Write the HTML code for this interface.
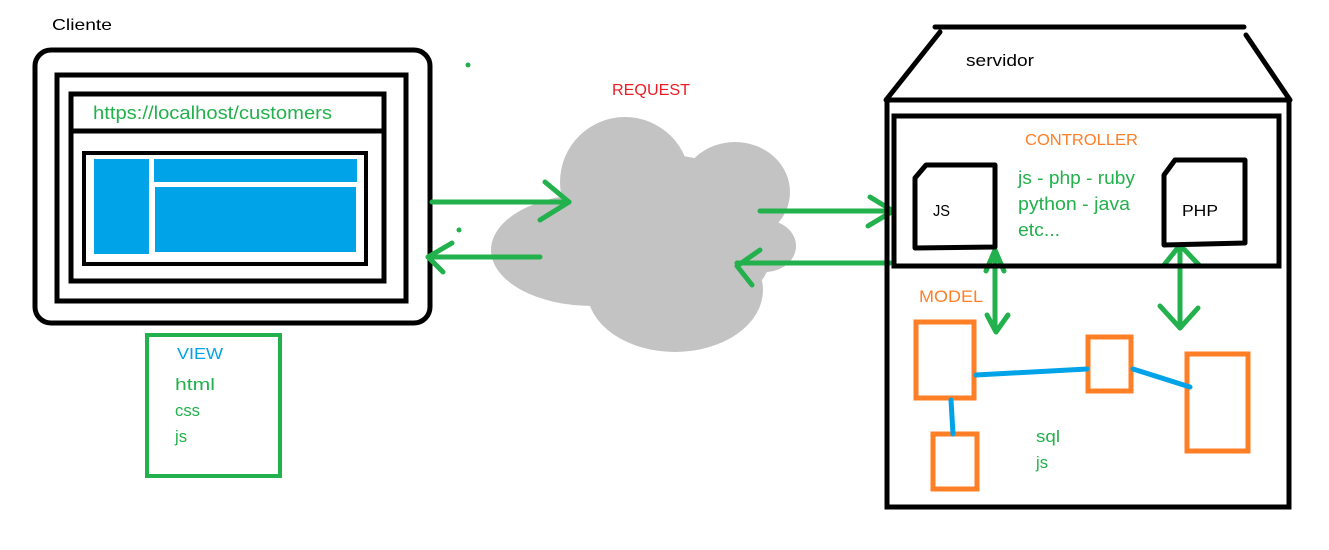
<!DOCTYPE html>
<html><head><meta charset="utf-8"><style>
body{margin:0;background:#fff;width:1329px;height:545px;overflow:hidden}
text{font-family:"Liberation Sans","DejaVu Sans",sans-serif}
</style></head><body>
<svg width="1329" height="545" viewBox="0 0 1329 545" xmlns="http://www.w3.org/2000/svg">
<rect width="1329" height="545" fill="#fff"/>
<!-- cloud -->
<g fill="#c3c3c3">
<circle cx="625" cy="182" r="65"/>
<ellipse cx="735" cy="192" rx="55" ry="50"/>
<ellipse cx="592" cy="250" rx="101" ry="56"/>
<ellipse cx="675" cy="290" rx="88" ry="62"/>
<ellipse cx="765" cy="246" rx="31" ry="26"/>
<ellipse cx="665" cy="240" rx="110" ry="85"/>
</g>
<!-- client -->
<text x="52" y="30" font-size="16" fill="#000" textLength="60" lengthAdjust="spacingAndGlyphs">Cliente</text>
<rect x="35" y="50" width="395" height="273" rx="16" fill="none" stroke="#000" stroke-width="5"/>
<rect x="57" y="75" width="349" height="226" fill="none" stroke="#000" stroke-width="5"/>
<rect x="71" y="94" width="313" height="187" fill="none" stroke="#000" stroke-width="5"/>
<line x1="71" y1="131" x2="386" y2="131" stroke="#000" stroke-width="5"/>
<text x="93" y="119" font-size="18" fill="#22b14c" textLength="239" lengthAdjust="spacingAndGlyphs">https://localhost/customers</text>
<rect x="84" y="153" width="282" height="111" fill="none" stroke="#000" stroke-width="4"/>
<rect x="94" y="159" width="55" height="95" fill="#00a2e8"/>
<rect x="154" y="159" width="203" height="23" fill="#00a2e8"/>
<rect x="155" y="187" width="201" height="65" fill="#00a2e8"/>
<!-- view -->
<rect x="147" y="335" width="133" height="141" fill="none" stroke="#22b14c" stroke-width="4"/>
<text x="177" y="359" font-size="16" fill="#00a2e8" textLength="46" lengthAdjust="spacingAndGlyphs">VIEW</text>
<text x="175" y="390" font-size="17" fill="#22b14c" textLength="40" lengthAdjust="spacingAndGlyphs">html</text>
<text x="175" y="416" font-size="17" fill="#22b14c" textLength="25" lengthAdjust="spacingAndGlyphs">css</text>
<text x="175" y="442" font-size="17" fill="#22b14c" textLength="12" lengthAdjust="spacingAndGlyphs">js</text>
<circle cx="468" cy="65" r="2.5" fill="#22b14c"/>
<circle cx="459" cy="230" r="2.5" fill="#22b14c"/>
<text x="612" y="95" font-size="16" fill="#ed1c24" textLength="78" lengthAdjust="spacingAndGlyphs">REQUEST</text>
<!-- arrows -->
<g stroke="#22b14c" stroke-width="5" fill="none" stroke-linecap="round" stroke-linejoin="round">
<line x1="432" y1="202" x2="569" y2="202"/><polyline points="545,182 569,202 540,220"/>
<line x1="540" y1="257" x2="428" y2="257"/><polyline points="452,243 428,257 443,272"/>
<line x1="760" y1="211" x2="893" y2="211"/><polyline points="870,197 893,211 868,226"/>
<line x1="890" y1="263" x2="737" y2="263"/><polyline points="760,250 737,266 752,285"/>
<line x1="995" y1="250" x2="995" y2="330"/><polyline points="986,271 995,250 1004,271"/><polyline points="987,315 996,332 1008,315"/>
<line x1="1180" y1="245" x2="1180" y2="328"/><polyline points="1164,265 1180,245 1199,265"/><polyline points="1160,306 1180,328 1198,308"/>
</g>
<!-- server -->
<g stroke="#000" stroke-width="5" fill="none" stroke-linecap="round">
<line x1="935" y1="27" x2="1244" y2="27"/>
<line x1="940" y1="32" x2="886" y2="100"/>
<line x1="1246" y1="35" x2="1290" y2="100"/>
<rect x="887" y="100" width="402" height="407"/>
<rect x="894" y="116" width="385" height="150"/>
<path d="M926,165 L995,165 L995,247 L915,248 L915,178 Z" stroke-linejoin="round"/>
<path d="M1175,160 L1245,160 L1245,243 L1164,245 L1164,175 Z" stroke-linejoin="round"/>
</g>
<text x="966" y="66" font-size="17" fill="#000" textLength="68" lengthAdjust="spacingAndGlyphs">servidor</text>
<text x="1025" y="145" font-size="16" fill="#ff7f27" textLength="113" lengthAdjust="spacingAndGlyphs">CONTROLLER</text>
<text x="933" y="216" font-size="16" fill="#000" textLength="17" lengthAdjust="spacingAndGlyphs">JS</text>
<text x="1182" y="216" font-size="16" fill="#000" textLength="36" lengthAdjust="spacingAndGlyphs">PHP</text>
<text x="1018" y="184" font-size="18" fill="#22b14c" textLength="117" lengthAdjust="spacingAndGlyphs">js - php - ruby</text>
<text x="1018" y="210" font-size="18" fill="#22b14c" textLength="112" lengthAdjust="spacingAndGlyphs">python - java</text>
<text x="1018" y="236" font-size="18" fill="#22b14c" textLength="42" lengthAdjust="spacingAndGlyphs">etc...</text>
<text x="919" y="302" font-size="17" fill="#ff7f27" textLength="64" lengthAdjust="spacingAndGlyphs">MODEL</text>
<g stroke="#ff7f27" stroke-width="5" fill="none">
<rect x="916" y="322" width="58" height="76"/>
<rect x="1088" y="337" width="43" height="54"/>
<rect x="1187" y="354" width="61" height="97"/>
<rect x="933" y="434" width="44" height="55"/>
</g>
<g stroke="#00a2e8" stroke-width="5" stroke-linecap="round">
<line x1="976" y1="375" x2="1087" y2="369"/>
<line x1="1133" y1="369" x2="1190" y2="387"/>
<line x1="951" y1="400" x2="953" y2="434"/>
</g>
<text x="1036" y="442" font-size="17" fill="#22b14c" textLength="24" lengthAdjust="spacingAndGlyphs">sql</text>
<text x="1036" y="468" font-size="17" fill="#22b14c" textLength="12" lengthAdjust="spacingAndGlyphs">js</text>
</svg>
</body></html>
